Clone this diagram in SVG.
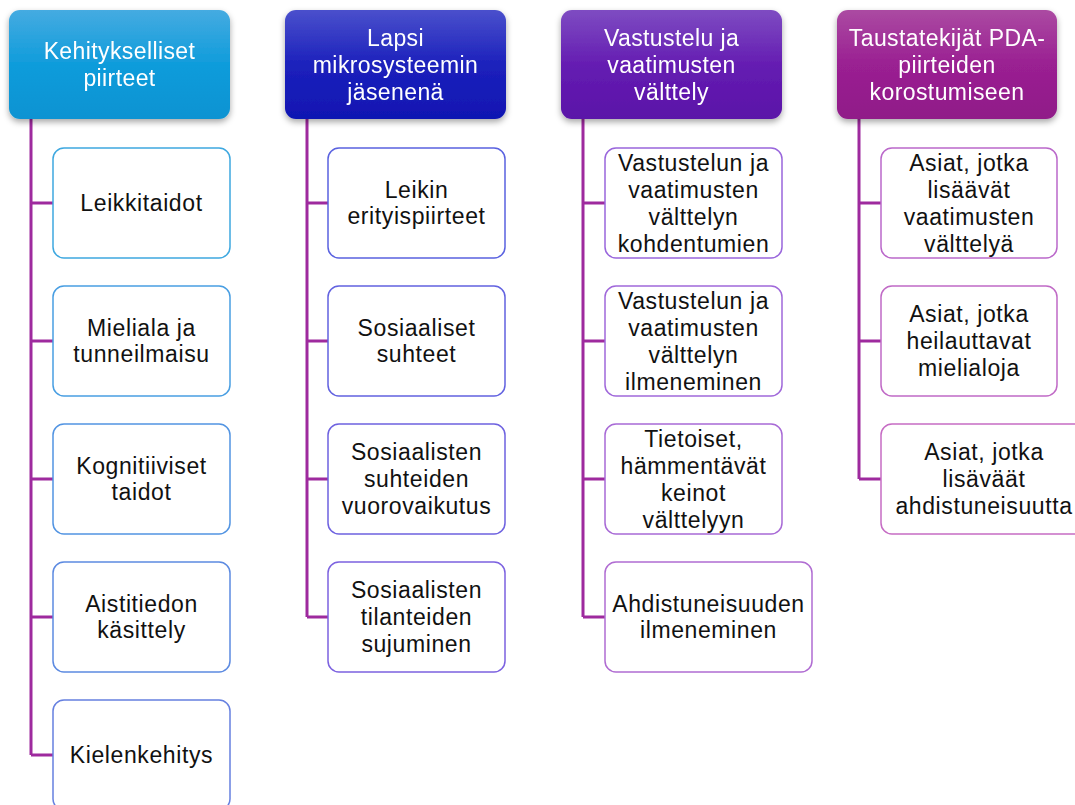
<svg xmlns="http://www.w3.org/2000/svg" width="1075" height="805" viewBox="0 0 1075 805">
<defs>
<linearGradient id="g1" x1="0" y1="0" x2="0" y2="1"><stop offset="0" stop-color="#45ABE1"/><stop offset="0.5" stop-color="#0F9CDB"/><stop offset="1" stop-color="#0A93D2"/></linearGradient>
<linearGradient id="g2" x1="0" y1="0" x2="0" y2="1"><stop offset="0" stop-color="#4A50CC"/><stop offset="0.5" stop-color="#1C21BC"/><stop offset="1" stop-color="#1016B2"/></linearGradient>
<linearGradient id="g3" x1="0" y1="0" x2="0" y2="1"><stop offset="0" stop-color="#7E4CC2"/><stop offset="0.5" stop-color="#651DB2"/><stop offset="1" stop-color="#5A12A8"/></linearGradient>
<linearGradient id="g4" x1="0" y1="0" x2="0" y2="1"><stop offset="0" stop-color="#AB4AA2"/><stop offset="0.5" stop-color="#9A2092"/><stop offset="1" stop-color="#901A88"/></linearGradient>
<filter id="sh" x="-10%" y="-10%" width="120%" height="130%"><feDropShadow dx="0" dy="3" stdDeviation="3" flood-color="#000" flood-opacity="0.35"/></filter>
</defs>
<style>
.hdr{filter:url(#sh);}
.ht{font-family:"Liberation Sans",Arial,sans-serif;font-size:23px;letter-spacing:0.4px;fill:#fff;text-anchor:middle;}
.ct{font-family:"Liberation Sans",Arial,sans-serif;font-size:23px;letter-spacing:0.6px;fill:#111;text-anchor:middle;}
.box{fill:#fff;stroke-width:1.5;}
.conn{fill:none;stroke:#9E2A9E;stroke-width:3;}
</style>
<rect width="1075" height="805" fill="#fff"/>
<g id="connectors">
<path class="conn" d="M31 119V755M31 203H53M31 341H53M31 479H53M31 617H53M31 755H53"/>
<path class="conn" d="M307 119V617M307 203H328M307 341H328M307 479H328M307 617H328"/>
<path class="conn" d="M583 119V617M583 203H605M583 341H605M583 479H605M583 617H605"/>
<path class="conn" d="M859 119V479M859 203H881M859 341H881M859 479H881"/>
</g>
<g id="h1" class="hdr"><rect x="9" y="10" width="221" height="109" rx="11" fill="url(#g1)"/><text class="ht" x="119.5" y="59">Kehitykselliset</text><text class="ht" x="119.5" y="86">piirteet</text></g>
<g id="h2" class="hdr"><rect x="285" y="10" width="221" height="109" rx="11" fill="url(#g2)"/><text class="ht" x="395.5" y="46">Lapsi</text><text class="ht" x="395.5" y="73">mikrosysteemin</text><text class="ht" x="395.5" y="100">jäsenenä</text></g>
<g id="h3" class="hdr"><rect x="561" y="10" width="221" height="109" rx="11" fill="url(#g3)"/><text class="ht" x="671.5" y="46">Vastustelu ja</text><text class="ht" x="671.5" y="73">vaatimusten</text><text class="ht" x="671.5" y="100">välttely</text></g>
<g id="h4" class="hdr"><rect x="837" y="10" width="220" height="109" rx="11" fill="url(#g4)"/><text class="ht" x="947" y="46">Taustatekijät PDA-</text><text class="ht" x="947" y="73">piirteiden</text><text class="ht" x="947" y="100">korostumiseen</text></g>

<g id="c1a"><rect class="box" x="53" y="148" width="177" height="110" rx="11" stroke="#3EA8E0"/><text class="ct" x="141.5" y="211">Leikkitaidot</text></g>
<g id="c1b"><rect class="box" x="53" y="286" width="177" height="110" rx="11" stroke="#489EE2"/><text class="ct" x="141.5" y="336">Mieliala ja</text><text class="ct" x="141.5" y="362">tunneilmaisu</text></g>
<g id="c1c"><rect class="box" x="53" y="424" width="177" height="110" rx="11" stroke="#5294E2"/><text class="ct" x="141.5" y="474">Kognitiiviset</text><text class="ct" x="141.5" y="500">taidot</text></g>
<g id="c1d"><rect class="box" x="53" y="562" width="177" height="110" rx="11" stroke="#5C8AE1"/><text class="ct" x="141.5" y="612">Aistitiedon</text><text class="ct" x="141.5" y="638">käsittely</text></g>
<g id="c1e"><rect class="box" x="53" y="700" width="177" height="110" rx="11" stroke="#6680E0"/><text class="ct" x="141.5" y="763">Kielenkehitys</text></g>

<g id="c2a"><rect class="box" x="328" y="148" width="177" height="110" rx="11" stroke="#5A62E0"/><text class="ct" x="416.5" y="198">Leikin</text><text class="ct" x="416.5" y="224">erityispiirteet</text></g>
<g id="c2b"><rect class="box" x="328" y="286" width="177" height="110" rx="11" stroke="#6262E0"/><text class="ct" x="416.5" y="336">Sosiaaliset</text><text class="ct" x="416.5" y="362">suhteet</text></g>
<g id="c2c"><rect class="box" x="328" y="424" width="177" height="110" rx="11" stroke="#6E62E0"/><text class="ct" x="416.5" y="460">Sosiaalisten</text><text class="ct" x="416.5" y="487">suhteiden</text><text class="ct" x="416.5" y="514">vuorovaikutus</text></g>
<g id="c2d"><rect class="box" x="328" y="562" width="177" height="110" rx="11" stroke="#7C62E0"/><text class="ct" x="416.5" y="598">Sosiaalisten</text><text class="ct" x="416.5" y="625">tilanteiden</text><text class="ct" x="416.5" y="652">sujuminen</text></g>

<g id="c3a"><rect class="box" x="605" y="148" width="177" height="110" rx="11" stroke="#9966DC"/><text class="ct" x="693.5" y="171">Vastustelun ja</text><text class="ct" x="693.5" y="198">vaatimusten</text><text class="ct" x="693.5" y="225">välttelyn</text><text class="ct" x="693.5" y="252">kohdentumien</text></g>
<g id="c3b"><rect class="box" x="605" y="286" width="177" height="110" rx="11" stroke="#A068DA"/><text class="ct" x="693.5" y="309">Vastustelun ja</text><text class="ct" x="693.5" y="336">vaatimusten</text><text class="ct" x="693.5" y="363">välttelyn</text><text class="ct" x="693.5" y="390">ilmeneminen</text></g>
<g id="c3c"><rect class="box" x="605" y="424" width="177" height="110" rx="11" stroke="#A86AD6"/><text class="ct" x="693.5" y="447">Tietoiset,</text><text class="ct" x="693.5" y="474">hämmentävät</text><text class="ct" x="693.5" y="501">keinot</text><text class="ct" x="693.5" y="528">välttelyyn</text></g>
<g id="c3d"><rect class="box" x="605" y="562" width="207" height="110" rx="11" stroke="#B06CD2"/><text class="ct" x="708.5" y="612">Ahdistuneisuuden</text><text class="ct" x="708.5" y="638">ilmeneminen</text></g>

<g id="c4a"><rect class="box" x="881" y="148" width="176" height="110" rx="11" stroke="#BA68CA"/><text class="ct" x="969" y="171">Asiat, jotka</text><text class="ct" x="969" y="198">lisäävät</text><text class="ct" x="969" y="225">vaatimusten</text><text class="ct" x="969" y="252">välttelyä</text></g>
<g id="c4b"><rect class="box" x="881" y="286" width="176" height="110" rx="11" stroke="#C06AC6"/><text class="ct" x="969" y="322">Asiat, jotka</text><text class="ct" x="969" y="349">heilauttavat</text><text class="ct" x="969" y="376">mielialoja</text></g>
<g id="c4c"><rect class="box" x="881" y="424" width="206" height="110" rx="11" stroke="#C66CC4"/><text class="ct" x="984" y="460">Asiat, jotka</text><text class="ct" x="984" y="487">lisäväät</text><text class="ct" x="984" y="514">ahdistuneisuutta</text></g>
</svg>
